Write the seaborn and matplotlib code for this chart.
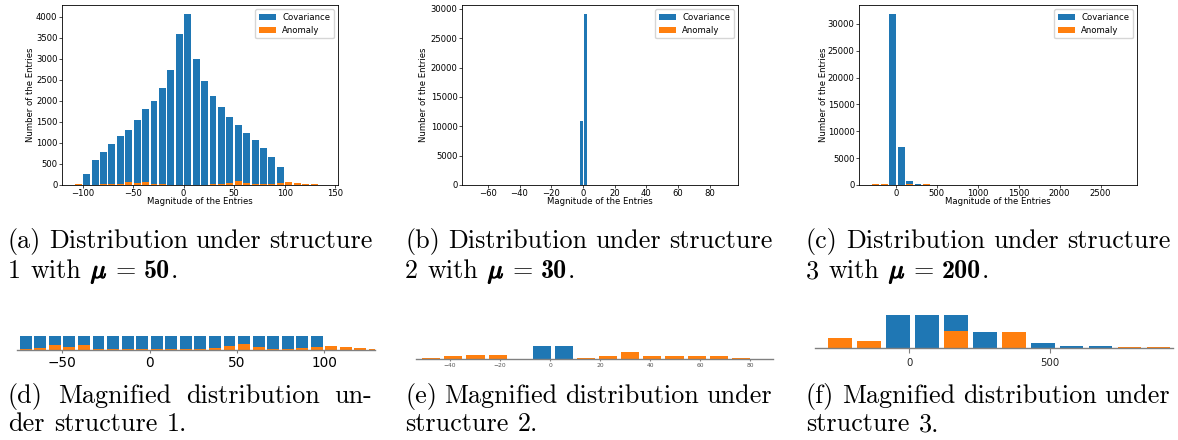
import matplotlib
import numpy as np
import pandas as pd
import seaborn as sns

matplotlib.use("Agg")
import matplotlib.pyplot as plt
import matplotlib.patheffects as pe
from matplotlib.patches import Patch
from matplotlib.transforms import IdentityTransform

W, H, DPI = 1178, 440, 100
BLUE = "#1f77b4"
ORANGE = "#ff7f0e"
FS = 6.1        # tick / label size of the three main panels
CAP_FS = 18.8   # caption size
EM = CAP_FS * DPI / 72

# ---- structure 1 (30 bins, shared by cov and anomaly) ----
bins1 = (-108.5, 250 / 30, 30)
cov1 = [0, 270, 600, 790, 980, 1170, 1320, 1550, 1800, 2000, 2310, 2740, 3600,
        4080, 3010, 2480, 2120, 1860, 1620, 1430, 1240, 1070, 880, 670, 430,
        0, 0, 0, 0, 0]
anom1 = [15, 10, 10, 15, 12, 25, 78, 42, 78, 12, 12, 6, 6, 6, 6, 6, 12, 25,
         55, 95, 42, 12, 12, 25, 42, 60, 42, 25, 12, 8]

# ---- structure 2 ----
bins2_cov = (-2.22, 2.54, 2)
cov2 = [10900, 29200]
bins2 = (-69.6, 8.844, 18)
cov2_zoom = [0, 0, 0, 0, 0, 0, 0, 10900, 29200, 0, 0, 0, 0, 0, 0, 0, 0, 0]
anom2 = [5, 0, 10, 25, 32, 32, 5, 0, 0, 10, 25, 55, 25, 25, 25, 25, 10, 5]

# ---- structure 3 (30 bins) ----
bins3 = (-297.5, 103, 30)
cov3 = [0, 0, 31900, 7100, 750, 220, 0, 65, 23, 23, 6, 6, 3, 3, 2, 2, 2, 2,
        1, 1, 1, 1, 1, 1, 1, 1, 1, 1, 1, 1]
anom3 = [136, 94, 0, 0, 234, 0, 220, 0, 0, 0, 8, 8, 6, 5, 5, 4, 4, 4, 3, 3,
         3, 3, 2, 2, 2, 2, 2, 2, 2, 2]

captions = [
    ("(a) Distribution under structure", "1", "50"),
    ("(b) Distribution under structure", "2", "30"),
    ("(c) Distribution under structure", "3", "200"),
]
zoom_captions = [
    ("(d) Magnified distribution un-", "der structure 1."),
    ("(e) Magnified distribution under", "structure 2."),
    ("(f) Magnified distribution under", "structure 3."),
]


def make_edges(spec):
    start, width, n = spec
    return start + width * np.arange(n + 1)


def px_axes(fig, x0, y0, x1, y1):
    return fig.add_axes([x0 / W, 1 - y1 / H, (x1 - x0) / W, (y1 - y0) / H])


def draw_hist(ax, spec, counts, color):
    edges = make_edges(spec)
    df = pd.DataFrame({"value": (edges[:-1] + edges[1:]) / 2, "count": counts})
    sns.histplot(data=df, x="value", weights="count", bins=list(edges),
                 shrink=0.82, color=color, alpha=1, edgecolor="none",
                 linewidth=0, ax=ax)


def main_panel(fig, box, cov_spec, cov, anom_spec, anom, xlim, xticks, yticks, ylab_x):
    ax = px_axes(fig, *box)
    draw_hist(ax, cov_spec, cov, BLUE)
    draw_hist(ax, anom_spec, anom, ORANGE)
    ax.set_xlim(xlim)
    ax.set_xticks(xticks)
    ax.set_yticks(yticks)
    ax.set_xlabel("Magnitude of the Entries", fontsize=FS)
    ax.set_ylabel("Number of the Entries", fontsize=FS)
    ax.xaxis.set_label_coords(0.5, -0.065)
    ax.yaxis.set_label_coords(ylab_x, 0.5)
    ax.tick_params(labelsize=FS, length=2, width=0.5, pad=1.2)
    for s in ax.spines.values():
        s.set_linewidth(0.6)
    ax.legend(handles=[Patch(facecolor=BLUE, label="Covariance"),
                       Patch(facecolor=ORANGE, label="Anomaly")],
              loc="upper right", fontsize=FS)
    return ax


def zoom_panel(fig, box, cov_spec, cov, anom_spec, anom, xlim, ylim, xticks,
               labelsize, labelcolor, ticklen, pad):
    ax = px_axes(fig, *box)
    draw_hist(ax, cov_spec, cov, BLUE)
    draw_hist(ax, anom_spec, anom, ORANGE)
    ax.set_xlim(xlim)
    ax.set_ylim(ylim)
    sns.despine(ax=ax, left=True)
    ax.spines["bottom"].set_color("#808080")
    ax.spines["bottom"].set_linewidth(1.0)
    ax.set_yticks([])
    ax.set_xticks(xticks)
    ax.tick_params(axis="x", labelsize=labelsize, labelcolor=labelcolor,
                   color="#808080", length=ticklen, width=0.8, pad=pad)
    ax.set_xlabel("")
    ax.set_ylabel("")
    ax.patch.set_alpha(0)
    return ax


def piece(fig, s, kind):
    kw = dict(fontsize=CAP_FS, va="baseline", ha="left", color="black",
              transform=IdentityTransform())
    if kind == "rm":
        kw["family"] = "cmr10"
    elif kind == "bf":
        kw["family"] = "cmb10"
    else:
        s = r"$\mu$"
        kw["math_fontfamily"] = "cm"
        kw["path_effects"] = [pe.withStroke(linewidth=0.9, foreground="black")]
    return fig.text(0, 0, s, **kw)


def caption_line(fig, renderer, words, x0, x1, y, justify, gaps=None):
    built = []
    for word in words:
        texts = [piece(fig, s, k) for s, k in word]
        widths = [t.get_window_extent(renderer).width for t in texts]
        built.append((texts, widths))
    if gaps is None:
        gaps = [0.36] * (len(built) - 1)
    gaps = [g * EM for g in gaps] + [0]
    if justify:
        total = sum(sum(w) + 1.0 * (len(w) - 1) for _, w in built)
        even = (x1 - x0 - total) / (len(built) - 1)
        gaps = [even] * (len(built) - 1) + [0]
    x = x0
    for (texts, widths), gap in zip(built, gaps):
        for t, w in zip(texts, widths):
            t.set_position((x, H - y))
            x += w + 1.0
        x += gap - 1.0


fig = plt.figure(figsize=(W / DPI, H / DPI), dpi=DPI)

main_panel(fig, (62, 5, 338, 185), bins1, cov1, bins1, anom1,
           (-120.4, 152.7), [-100, -50, 0, 50, 100, 150],
           np.arange(0, 4001, 500), -0.098)
main_panel(fig, (462, 5, 738, 185), bins2_cov, cov2, bins2, anom2,
           (-76.3, 97.8), [-60, -40, -20, 0, 20, 40, 60, 80],
           np.arange(0, 30001, 5000), -0.122)
main_panel(fig, (859, 5, 1137, 185), bins3, cov3, bins3, anom3,
           (-452, 2946), [0, 500, 1000, 1500, 2000, 2500],
           np.arange(0, 30001, 5000), -0.110)

zoom_panel(fig, (17, 336, 375, 349.5), bins1, cov1, bins1, anom1,
           (-76, 129), (0, 240), [-50, 0, 50, 100], 9.8, "black", 2, 3.0)
zoom_panel(fig, (416, 346, 773.3, 359.3), bins2, cov2_zoom, bins2, anom2,
           (-53.6, 89.3), (0, 100), [-40, -20, 0, 20, 40, 60, 80], 4.3,
           "#555555", 1.2, 1.2)
zoom_panel(fig, (815, 315, 1172.7, 347.7), bins3, cov3, bins3, anom3,
           (-336, 938), (0, 460), [0, 500], 7.3, "#222222", 3.4, 4.0)

renderer = fig.canvas.get_renderer()
col_x = [(8, 372), (405, 772), (806, 1170)]

for (line1, num, mu_val), (x0, x1) in zip(captions, col_x):
    words1 = [[(w, "rm")] for w in line1.split()]
    caption_line(fig, renderer, words1, x0, x1, 248, True)
    words2 = [[(num, "rm")], [("with", "rm")], [("", "mu")], [("=", "rm")],
              [(mu_val, "bf"), (".", "rm")]]
    caption_line(fig, renderer, words2, x0, x1, 278, False,
                 gaps=[0.36, 0.36, 0.3, 0.3])

for (line1, line2), (x0, x1) in zip(zoom_captions, col_x):
    caption_line(fig, renderer, [[(w, "rm")] for w in line1.split()], x0, x1, 403, True)
    caption_line(fig, renderer, [[(w, "rm")] for w in line2.split()], x0, x1, 431, False)

fig.savefig("out.png", dpi=DPI)
